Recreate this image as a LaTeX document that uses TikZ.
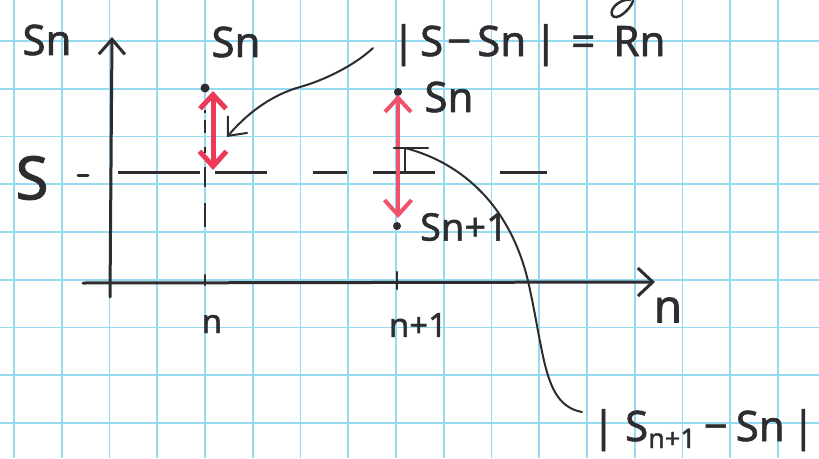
\documentclass[tikz,border=0pt]{standalone}
\usepackage{fontspec}
\setmainfont{Noto Sans}
\newfontfamily\hand[FakeBold=1.4]{Noto Sans}
\usetikzlibrary{arrows.meta}
\definecolor{ink}{RGB}{45,45,48}
\definecolor{redA}{RGB}{236,58,88}
\definecolor{redB}{RGB}{240,82,108}
\definecolor{gridc}{RGB}{150,218,242}
\begin{document}
\begin{tikzpicture}[x=1pt,y=-1pt,
  txt/.style={inner sep=0pt,outer sep=0pt,text=ink},
  lblM/.style={txt,font=\hand\fontsize{42}{42}\selectfont},
  lblS/.style={txt,font=\hand\fontsize{33}{33}\selectfont},
  axisline/.style={draw=ink,line width=3pt,line cap=round},
  inkline/.style={draw=ink,line width=2pt,line cap=round},
  barbhead/.style={-{Straight Barb[length=15pt,width=26pt]}},
  redarrow/.style={line cap=round,{Straight Barb[length=14pt,width=26pt]}-{Straight Barb[length=15pt,width=27pt]}},
  dot/.style={circle,fill=ink,inner sep=0pt,minimum size=9pt}]
\path[use as bounding box] (0,0) rectangle (819,458);
\fill[white] (0,0) rectangle (819,458);
% grid paper
\foreach \i in {0,...,16} \draw[gridc,line width=1.8pt] ({14+47.75*\i},0) -- ({14+47.75*\i},458);
\foreach \j in {0,...,8} \draw[gridc,line width=1.8pt] (0,{41+47.75*\j}) -- (819,{41+47.75*\j});
% axes
\coordinate (yb) at (110,297);
\coordinate (yt) at (112,37);
\coordinate (xl) at (83,283);
\coordinate (xr) at (655,282);
\draw[axisline,barbhead] (yb) -- (yt);
\draw[axisline,-{Straight Barb[length=15pt,width=28pt]}] (xl) -- (xr);
% ticks
\coordinate (t1a) at (205,275); \coordinate (t1b) at (205,285);
\coordinate (t2a) at (397,272); \coordinate (t2b) at (397,289);
\draw[inkline,line width=2.5pt] (t1a) -- (t1b);
\draw[inkline,line width=2.5pt] (t2a) -- (t2b);
% S level dashes
\coordinate (sl) at (118,172); \coordinate (sr) at (547,172);
\draw[ink,line width=3pt,dash pattern=on 82pt off 15pt on 52pt off 46pt on 34pt off 26pt on 62pt off 65pt on 47pt off 100pt] (sl) -- (sr);
\coordinate (sd1) at (78,175); \coordinate (sd2) at (88,175);
\draw[ink,line width=3pt,line cap=round] (sd1) -- (sd2);
% vertical dashed at n
\coordinate (vd1) at (205,110); \coordinate (vd2) at (205,228);
\draw[ink,line width=2.5pt,dash pattern=on 3pt off 7pt on 13pt off 14pt on 6pt off 14pt on 20pt off 16pt on 24pt off 50pt] (vd1) -- (vd2);
% dots
\node[dot] (dA) at (205,88) {};
\node[dot,minimum size=8pt] (dB) at (398,92) {};
\node[dot,minimum size=8pt] (dC) at (397,226) {};
% red arrows
\coordinate (ra1) at (213,91); \coordinate (ra2) at (213,170);
\draw[redA,line width=5pt,redarrow] (ra1) -- (ra2);
\coordinate (rb1) at (398,95); \coordinate (rb2) at (398,218);
\draw[redB,line width=4pt,redarrow] (rb1) -- (rb2);
% labels
\node[lblM] (ylab) at (47,40) {Sn};
\node[lblM] (snA) at (236,42) {Sn};
\node[lblM,anchor=base west] (rn) at (392,56) {|\kern5pt S\kern4pt−\kern6pt Sn\kern8pt|\kern14pt=\kern18pt Rn};
\node[lblM] (snB) at (449,97) {Sn};
\node[lblM,font=\hand\fontsize{38}{38}\selectfont] (snC) at (464,227) {Sn+1};
\node[txt,font=\hand\fontsize{60}{60}\selectfont] (sLab) at (32,178) {S};
\node[lblS] (nA) at (212,324) {n};
\node[lblS] (nB) at (418,325) {n+1};
\node[txt,font=\hand\fontsize{46}{46}\selectfont] (nAx) at (668,310) {n};
\node[lblM,anchor=base west] (diff) at (592,441) {|\kern10pt S\raisebox{-7pt}{\fontsize{27}{27}\selectfont n+1}\kern8pt−\kern8pt Sn\kern7pt|};
% leader to the left difference
\coordinate (c1) at (373,48);
\coordinate (c1tip) at (227,137);
\draw[inkline,barbhead] (c1) .. controls (355,65) and (325,80) .. (300,87) .. controls (275,94) and (250,110) .. (c1tip);
% marker and leader to the right difference
\coordinate (tm) at (405,148);
\coordinate (tmL) at (394,148); \coordinate (tmR) at (428,148); \coordinate (tmB) at (405,172);
\draw[inkline,line width=2.5pt] (tmL) -- (tmR);
\draw[inkline,line width=2.5pt] (tm) -- (tmB);
\coordinate (c2end) at (582,412);
\draw[inkline] (tm) .. controls (470,165) and (515,215) .. (530,290) .. controls (545,360) and (545,405) .. (c2end);
% cut-off stroke at top
\draw[inkline,line width=2.5pt] (633,1) .. controls (630,10) and (616,22) .. (612,15) .. controls (609,8) and (622,-2) .. (630,0);
\end{tikzpicture}
\end{document}
